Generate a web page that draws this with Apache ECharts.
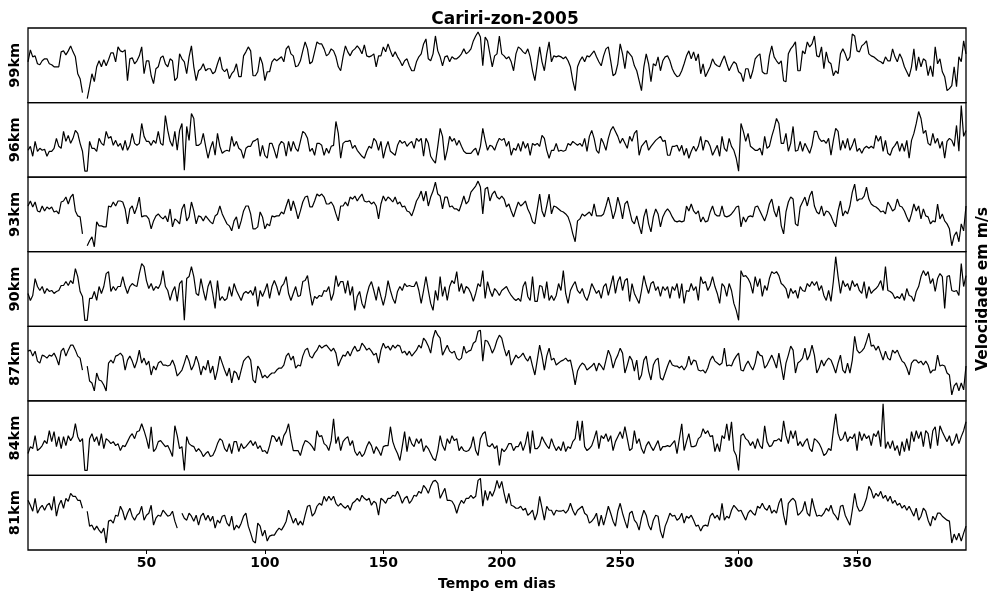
<!DOCTYPE html>
<html>
<head>
<meta charset="utf-8">
<script src="https://cdn.jsdelivr.net/npm/echarts@6/dist/echarts.min.js"></script>
<style>
  html, body { margin: 0; background: #fff; }
  #chart { width: 991px; height: 592px; }
</style>
</head>
<body>
<div id="chart"></div>
<script>
// dias 0..396, uma medida por dia
var days = [];
for (var d = 0; d <= 396; d++) days.push(d);

var xTicks = [50, 100, 150, 200, 250, 300, 350];
var panelNames = ['99km', '96km', '93km', '90km', '87km', '84km', '81km'];

// velocidade (unidade relativa, 0-75 dentro de cada painel)
var v99 = [
  41,53,46,47,39,38,42,44,44,39, 38,36,36,36,51,52,48,52,57,51, 46,29,24,10,null,4,16,29,21,36, 42,36,43,37,43,50,50,41,56,52, 51,53,22,44,45,39,42,47,56,29, 42,42,27,19,34,36,45,47,39,36, 44,42,22,25,49,44,41,
  29,46,57,36,22,32,34,39,32,34, 34,29,31,39,46,34,31,34,24,29, 32,39,26,26,47,51,56,52,27,27, 31,46,39,22,31,31,41,44,42,44, 46,41,54,57,49,47,36,37,42,52, 61,54,39,41,51,61,59,59,54,47, 49,54,52,46,36,32,
  46,57,51,47,52,54,57,54,49,58, 47,46,47,49,36,47,47,56,51,59, 52,46,51,46,42,37,42,44,37,32, 32,41,46,49,59,64,44,42,49,67, 52,46,37,46,47,41,46,44,44,46, 49,54,49,51,54,62,67,71,66,37, 66,62,49,36,47,49,67,
  49,47,44,46,41,32,49,56,54,51, 49,54,46,32,22,39,56,41,32,49, 61,41,47,46,47,46,44,46,42,36, 22,12,36,42,46,41,47,46,49,52, 46,41,37,47,54,56,42,27,29,39, 59,49,34,52,49,46,37,32,22,12, 36,49,39,21,39,37,46,
  32,42,46,47,42,34,29,26,27,32, 39,47,52,44,51,42,49,29,39,26, 31,36,44,39,37,36,42,47,39,32, 37,41,39,31,29,21,34,34,24,32, 44,47,49,31,29,29,47,57,46,42, 39,42,22,21,49,54,57,61,32,32, 52,49,61,56,59,67,47,
  46,56,34,51,41,39,27,32,29,49, 54,49,42,46,69,67,52,51,57,59, 62,49,47,46,44,42,41,39,46,42, 42,54,46,41,49,44,36,31,26,36, 54,32,46,36,44,42,27,37,26,56, 39,44,31,26,12,14,17,36,16,46, 41,62,49
];
var v96 = [
  27,31,21,36,26,29,27,28,21,26, 26,29,39,31,29,46,36,42,34,39, 47,44,34,26,6,6,36,29,29,26, 39,34,32,46,39,41,32,37,31,34, 27,37,27,32,44,34,32,34,54,41, 36,36,32,37,34,46,34,32,62,47, 36,31,46,27,47,54,7,
  51,37,64,59,32,32,34,44,31,19, 29,36,22,44,31,24,26,27,26,41, 31,36,29,27,19,29,31,31,36,37, 39,21,32,22,19,34,34,27,19,32, 36,34,21,36,26,36,29,26,36,46, 44,39,26,29,22,34,34,32,22,29, 24,31,32,56,44,19,
  34,36,36,37,29,32,27,24,21,19, 26,31,29,39,36,27,36,19,29,36, 26,24,22,32,37,34,36,31,34,36, 29,39,36,39,21,39,34,21,17,14, 31,49,41,17,27,41,36,39,32,37, 31,26,24,24,24,27,29,22,31,49, 37,27,32,31,27,34,39,
  37,39,31,36,22,29,27,34,26,36, 29,34,22,34,32,34,31,42,39,27, 19,27,27,34,26,27,26,27,34,32, 36,34,32,34,31,39,26,41,47,39, 27,24,39,34,27,39,47,51,46,41, 34,39,34,29,41,36,44,47,22,31, 34,37,27,31,34,37,39,
  41,36,37,22,22,31,31,32,26,32, 22,29,19,26,31,26,31,41,27,37, 36,31,22,27,32,21,41,29,26,39, 31,27,19,6,54,46,36,44,31,29, 27,27,29,22,41,29,31,41,49,59, 54,34,34,44,26,34,51,26,27,36, 26,34,29,24,32,46,46,
  39,36,37,34,39,22,37,49,46,27, 37,29,39,27,32,39,26,29,24,29, 31,29,31,29,42,36,41,26,37,24, 22,29,32,36,26,34,26,37,19,37, 44,54,66,59,44,47,34,32,44,34, 39,29,36,19,36,39,37,31,52,26, 72,41,47
];
var v93 = [
  46,51,45,50,41,40,46,41,45,43, 45,40,41,38,50,51,55,48,55,58, 41,36,35,18,null,6,11,15,5,30, 26,26,25,25,46,45,50,46,51,51, 50,43,28,43,46,38,45,55,35,36, 36,33,23,31,36,38,35,33,36,30, 43,25,33,31,28,43,48,
  31,35,50,41,28,36,35,31,36,33, 30,28,36,38,46,38,33,28,26,21, 31,35,23,31,41,46,46,38,23,23, 25,40,35,23,28,26,36,35,36,36, 40,38,46,53,41,51,43,33,41,50, 55,56,45,45,51,58,56,58,55,48, 48,50,46,38,31,46,
  46,50,46,55,53,56,51,55,58,51, 50,51,48,50,46,33,48,56,51,55, 53,50,55,48,50,45,46,41,40,36, 43,51,55,61,51,61,46,55,61,70, 58,56,43,55,55,45,46,43,43,41, 48,56,48,51,60,63,66,71,65,38, 63,65,51,58,61,55,53,
  56,53,45,48,41,35,43,50,46,48, 51,43,38,30,28,43,58,41,35,46, 58,38,46,45,43,41,40,38,35,28, 18,10,31,33,38,36,38,40,36,48, 36,36,36,38,46,55,45,33,41,55, 46,33,48,51,41,31,28,36,26,18, 35,43,28,20,35,43,38,
  25,35,40,43,40,35,31,30,31,30, 31,46,41,48,41,38,41,30,35,30, 31,40,46,38,36,36,46,36,35,36, 38,41,45,46,25,35,30,35,36,35, 45,46,41,36,31,38,48,53,41,35, 46,26,18,40,50,55,53,28,26,45, 50,55,46,56,61,46,40,
  38,46,36,41,40,36,30,25,41,51, 36,41,38,46,60,68,51,53,53,56, 65,53,48,46,45,43,40,41,38,50, 46,41,43,53,46,45,41,35,30,38, 48,41,46,33,43,36,35,28,31,30, 48,33,38,31,28,23,6,16,20,10, 28,21,46
];
var v90 = [
  33,26,31,48,40,36,40,33,38,35, 36,33,35,36,41,41,45,41,46,43, 58,50,35,30,6,6,28,28,35,26, 40,33,40,53,55,35,40,36,40,40, 50,40,33,40,43,41,40,53,63,60, 46,38,43,36,40,38,43,56,40,36, 26,35,40,25,43,46,6,
  48,50,60,50,33,31,48,36,26,40, 46,33,18,46,26,30,26,28,40,30, 43,36,31,26,33,35,33,36,31,40, 20,36,30,36,43,28,40,46,40,31, 40,43,50,33,26,33,40,30,31,45, 46,51,35,21,30,28,31,30,36,35, 40,26,33,51,40,45,
  45,33,46,31,40,16,30,35,23,18, 31,40,45,36,26,40,30,21,31,46, 36,28,23,35,40,36,43,40,41,40, 40,45,36,23,36,50,36,23,16,36, 26,50,30,40,26,40,46,43,55,35, 43,33,40,38,33,25,33,43,40,56, 28,45,36,30,38,35,31,
  36,38,40,35,31,28,26,28,25,40, 45,30,26,50,25,25,41,40,28,45, 26,31,26,31,43,36,56,33,23,36, 41,45,36,33,38,30,26,33,43,38, 33,36,28,40,43,31,41,51,33,45, 50,36,46,48,25,43,33,28,23,36, 51,41,33,43,45,36,40,
  30,40,36,40,28,40,36,43,28,43, 23,36,35,43,36,40,26,50,43,45, 36,41,50,40,33,23,43,40,30,43, 36,23,16,6,56,50,51,48,43,33, 50,40,48,30,41,36,48,55,53,55, 51,43,41,38,28,38,33,36,28,40, 36,35,43,40,45,41,45,
  36,41,31,26,36,25,45,70,50,33, 46,40,43,36,46,40,43,36,33,45, 28,40,33,36,38,41,46,36,60,36, 35,33,28,30,28,33,26,38,31,30, 25,35,40,50,56,51,55,43,48,35, 48,53,50,18,50,51,36,35,36,31, 63,40,51
];
var v87 = [
  50,51,45,50,40,38,46,45,43,46, 45,48,43,36,50,53,45,51,56,56, 51,45,43,31,null,35,20,18,10,28, 21,20,16,10,38,41,38,45,46,48, 45,31,41,45,40,33,40,51,38,43, 36,40,26,35,31,38,40,36,36,35, 36,41,35,25,28,31,38,
  46,40,31,36,45,38,26,35,31,41, 28,35,21,31,45,38,31,25,33,18, 30,28,21,31,40,43,45,41,21,18, 35,31,23,26,23,26,28,28,31,33, 33,36,45,48,41,45,33,36,35,45, 51,53,45,43,48,51,56,53,55,56, 53,50,53,48,35,41,
  46,45,50,45,51,55,50,51,58,55, 51,53,50,46,48,38,51,58,53,55, 51,56,53,56,55,48,50,46,50,45, 48,51,56,53,63,60,55,48,63,71, 66,63,46,51,56,50,48,50,43,41, 43,55,48,50,51,58,60,70,71,40, 61,60,55,48,53,61,66,
  63,53,45,51,36,41,46,43,45,48, 43,40,45,35,26,41,56,45,31,45, 53,41,43,36,38,40,41,43,40,41, 30,16,30,35,38,36,31,33,35,38, 30,38,35,31,41,51,45,33,41,46, 53,48,28,36,45,41,30,41,21,26, 41,45,30,21,36,41,43,
  23,21,28,35,41,36,35,35,33,35, 31,35,45,36,41,40,31,30,31,28, 33,41,45,40,38,36,38,53,35,36, 35,41,45,48,31,30,36,40,35,31, 38,50,46,45,33,36,41,46,40,33, 48,35,21,38,46,55,51,28,38,40, 43,53,41,46,56,46,28,
  33,41,35,40,43,41,35,28,38,46, 31,28,38,28,41,65,51,48,50,53, 60,68,55,56,51,55,48,41,50,43, 41,51,48,51,45,40,38,33,26,38, 41,41,38,40,36,40,36,28,31,31, 46,35,36,35,28,26,6,15,18,10, 18,11,35
];
var v84 = [
  22,29,27,40,25,27,30,35,32,45, 34,44,29,39,27,39,30,40,35,39, 52,39,34,37,5,5,37,42,34,39, 30,42,27,37,35,32,34,30,32,25, 30,29,34,39,42,37,44,45,52,45, 37,27,49,24,27,34,35,32,29,30, 25,19,50,40,27,29,5,
  39,32,30,29,24,27,24,19,22,24, 19,20,25,32,37,35,27,24,32,22, 34,34,24,32,27,29,32,35,30,34, 27,30,24,25,22,30,40,39,34,39, 30,40,44,52,37,25,25,25,20,29, 35,34,32,29,25,45,39,40,32,30, 25,35,57,32,39,25,
  34,37,39,30,35,24,20,24,19,22, 29,34,30,22,29,25,20,29,30,30, 49,34,27,22,15,29,44,24,39,32, 29,37,32,37,24,30,27,22,17,15, 25,40,30,25,37,32,40,35,37,25, 29,25,24,25,29,39,25,20,37,42, 44,30,29,32,27,30,10,
  27,24,27,32,32,25,29,29,34,25, 32,44,22,45,27,27,30,39,34,30, 27,37,30,25,29,25,34,24,29,27, 34,37,55,35,55,29,25,27,30,37, 45,27,40,37,42,34,40,25,34,39, 44,37,49,37,25,27,45,32,37,27, 22,30,34,29,25,30,35,
  25,29,29,30,29,32,35,22,37,52, 25,34,42,29,29,30,37,39,47,42, 45,39,40,24,32,24,40,37,52,35, 54,25,20,5,40,42,37,35,30,34, 27,37,30,27,50,34,29,30,35,35, 37,34,55,40,32,45,37,45,30,34, 29,34,37,27,24,37,35,
  32,27,20,22,27,25,45,62,42,35, 37,44,34,39,37,42,25,44,35,42, 37,40,30,42,39,45,29,72,27,34, 27,35,25,30,20,34,24,37,25,44, 34,45,37,44,29,45,42,27,45,49, 30,50,44,39,34,40,30,34,42,32, 39,45,54
];
var v81 = [
  50,45,39,52,37,42,45,40,45,47, 40,54,34,45,50,42,52,49,57,54, 54,50,50,42,null,39,24,25,20,24, 20,17,22,7,29,30,27,35,34,44, 39,30,37,42,34,30,35,37,44,30, 35,37,45,25,32,35,34,40,37,34, 35,39,29,22,null,37,32,
  30,37,34,29,35,25,34,37,30,35, 29,34,22,30,27,34,35,27,24,34, 20,25,22,27,34,37,24,17,9,7, 27,24,14,20,9,14,15,15,19,22, 20,24,29,40,34,27,32,25,29,25, 35,44,45,34,37,44,47,45,54,49, 54,50,54,47,44,47,
  44,42,45,40,47,49,52,49,55,52, 50,52,45,49,47,35,52,50,47,52, 52,55,54,59,54,47,52,54,47,50, 55,54,59,57,65,62,57,64,69,70, 67,52,57,62,50,50,49,45,37,45, 50,47,52,52,55,52,54,70,72,44, 60,50,59,54,60,70,62,
  69,57,47,57,45,44,42,42,44,40, 42,35,37,40,30,37,54,42,30,44, 40,40,35,40,39,39,40,37,40,47, 40,35,40,42,44,37,35,27,29,32, 37,24,35,25,34,44,37,29,24,39, 47,37,29,22,37,39,30,27,20,32, 40,35,25,20,30,35,34,
  19,12,24,30,37,34,35,30,32,37, 27,34,32,35,30,24,25,19,24,25, 24,34,37,32,35,30,47,30,34,32, 40,45,42,39,40,35,30,37,40,37, 35,44,42,47,42,40,45,37,40,37, 47,52,35,25,47,50,52,49,35,37, 40,49,37,34,52,42,34,
  35,34,37,42,39,45,37,34,30,44, 45,35,30,25,40,57,44,39,40,45, 52,64,60,52,57,54,59,52,55,49, 54,47,50,45,47,42,45,40,44,39, 34,42,30,34,42,39,30,24,34,30, 37,37,34,32,30,29,7,16,10,17, 9,17,24
];

var panelData = [v99, v96, v93, v90, v87, v84, v81];

var chart = echarts.init(document.getElementById('chart'));

var fontName = 'DejaVu Sans';
var plotLeft = 28, plotRight = 966, plotTop = 28, plotBottom = 550;
var panelH = (plotBottom - plotTop) / panelNames.length;

var grids = [], xAxes = [], yAxes = [], series = [];
for (var i = 0; i < panelNames.length; i++) {
  var isLast = (i === panelNames.length - 1);

  grids.push({
    left: plotLeft,
    width: plotRight - plotLeft,
    top: plotTop + i * panelH,
    height: panelH,
    show: true,
    borderColor: '#000',
    borderWidth: 1.3,
    backgroundColor: 'transparent'
  });

  xAxes.push({
    type: 'value',
    gridIndex: i,
    min: 0,
    max: 396,
    interval: 50,
    axisLine: { show: false },
    splitLine: { show: false },
    axisTick: {
      show: isLast,
      length: 4,
      lineStyle: { color: '#000', width: 1 },
      customValues: xTicks
    },
    axisLabel: {
      show: isLast,
      color: '#000',
      fontFamily: fontName,
      fontWeight: 'bold',
      fontSize: 14,
      margin: 6,
      customValues: xTicks
    },
    name: isLast ? 'Tempo em dias' : '',
    nameLocation: 'middle',
    nameGap: 27,
    nameTextStyle: { color: '#000', fontFamily: fontName, fontWeight: 'bold', fontSize: 14 }
  });

  yAxes.push({
    type: 'value',
    gridIndex: i,
    min: 0,
    max: 75,
    axisLine: { show: false },
    axisTick: { show: false },
    axisLabel: { show: false },
    splitLine: { show: false },
    name: panelNames[i],
    nameLocation: 'middle',
    nameRotate: 90,
    nameGap: 5,
    nameTextStyle: { color: '#000', fontFamily: fontName, fontWeight: 'bold', fontSize: 14.5 }
  });

  var vals = panelData[i];
  series.push({
    type: 'line',
    xAxisIndex: i,
    yAxisIndex: i,
    data: days.map(function (dd, j) { return [dd, vals[j]]; }),
    showSymbol: false,
    connectNulls: false,
    lineStyle: { color: '#000', width: 1.2 },
    animation: false
  });
}

chart.setOption({
  animation: false,
  backgroundColor: '#fff',
  title: {
    text: 'Cariri-zon-2005',
    left: 500,
    top: 6,
    textAlign: 'center',
    textStyle: { color: '#000', fontFamily: fontName, fontWeight: 'bold', fontSize: 17 }
  },
  grid: grids,
  xAxis: xAxes,
  yAxis: yAxes,
  series: series,
  graphic: [{
    type: 'text',
    x: 983,
    y: 289,
    rotation: Math.PI / 2,
    style: {
      text: 'Velocidade em m/s',
      fill: '#000',
      font: 'bold 15.5px "DejaVu Sans"',
      textAlign: 'center',
      textVerticalAlign: 'middle'
    }
  }]
});
</script>
</body>
</html>
